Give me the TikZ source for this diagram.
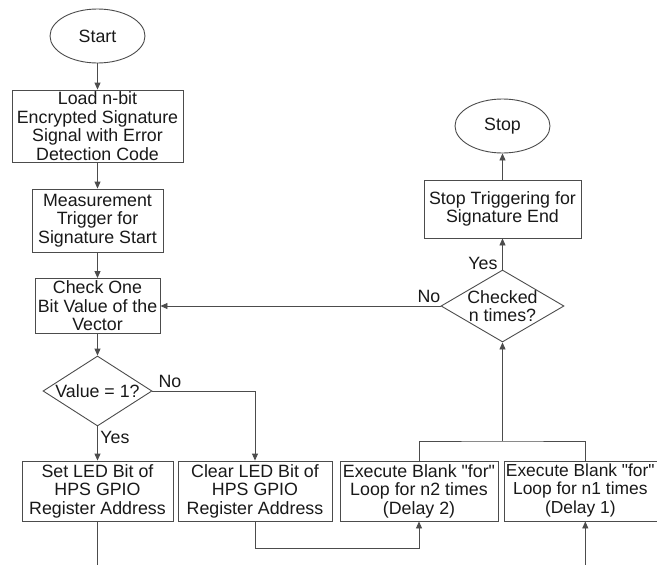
\documentclass[tikz,border=0pt]{standalone}
\usepackage{fontspec}
\setmainfont{Liberation Sans}
\usetikzlibrary{shapes.geometric,arrows.meta}
\begin{document}
\begin{tikzpicture}[x=1pt,y=-1pt,
  every node/.style={font=\fontsize{17.8}{18.5}\selectfont, text=black!90},
  box/.style={draw=black!70, line width=0.9pt, rectangle, align=center, inner sep=1pt},
  term/.style={draw=black!70, line width=0.9pt, ellipse, inner sep=0pt, minimum width=95pt, minimum height=54pt},
  dec/.style={draw=black!70, line width=0.9pt, diamond, align=center, inner sep=-3pt},
  lbl/.style={inner sep=1pt},
  conn/.style={draw=black!70, line width=0.9pt},
  arr/.style={conn, -{Triangle[length=7pt,width=6pt]}}
]
\useasboundingbox (0,0) rectangle (657,565);
\fill[white] (0,0) rectangle (657,565);

\node[term] (start) at (97.5,36) {Start};
\node[box, minimum width=171pt, minimum height=72pt] (load) at (97.5,126) {Load n-bit\\Encrypted Signature\\Signal with Error\\Detection Code};
\node[box, minimum width=131pt, minimum height=63pt] (meas) at (97.5,220.5) {Measurement\\Trigger for\\Signature Start};
\node[box, minimum width=125pt, minimum height=55pt] (check) at (97.5,306) {Check One\\Bit Value of the\\Vector};
\node[dec, minimum width=109pt, minimum height=70pt, aspect=1.557] (val) at (97.5,391) {Value = 1?};
\node[box, minimum width=151pt, minimum height=60pt] (setled) at (97.5,491) {Set LED Bit of\\HPS GPIO\\Register Address};
\node[box, minimum width=154pt, minimum height=60pt] (clear) at (255,491) {Clear LED Bit of\\HPS GPIO\\Register Address};
\node[box, minimum width=158pt, minimum height=60pt] (delay2) at (419,491) {Execute Blank \textquotedbl for\textquotedbl\\Loop for n2 times\\(Delay 2)};
\node[box, inner sep=0pt, minimum height=60pt, font=\fontsize{17.4}{18.5}\selectfont] (delay1) at (585.3,491) {\hspace{1pt}\begin{tabular}{@{}c@{}}Execute Blank \textquotedbl for\textquotedbl\\Loop for n1 times\\(Delay 1)\end{tabular}\hspace{11pt}};
\node[dec, minimum width=123pt, minimum height=72pt, aspect=1.71] (chk) at (502.5,306) {Checked\\n times?};
\node[box, minimum width=157pt, minimum height=58pt] (stoptrig) at (502.5,209) {Stop Triggering for\\Signature End};
\node[term] (stop) at (502.5,126) {Stop};

\coordinate (setbot) at (97.5,565);
\coordinate (c1) at (255,548);
\coordinate (d1bot) at (585.3,565);
\coordinate (jn) at (502.5,441);

\draw[arr] (start.south) -- (load.north);
\draw[arr] (load.south) -- (meas.north);
\draw[arr] (meas.south) -- (check.north);
\draw[arr] (check.south) -- (val.north);
\draw[arr] (val.south) -- (setled.north);
\draw[arr] (val.east) -| (clear.north);
\draw[conn] (setled.south) -- (setbot);
\draw[arr] (clear.south) -- (c1) -| (delay2.south);
\draw[arr] (d1bot) -- (delay1.south);
\draw[conn] (delay2.north) |- (jn) -| (delay1.north);
\draw[arr] (jn) -- (chk.south);
\draw[arr] (chk.west) -- (check.east);
\draw[arr] (chk.north) -- (stoptrig.south);
\draw[arr] (stoptrig.north) -- (stop.south);

\node[lbl] (no1) at (170,381) {No};
\node[lbl] (yes1) at (115,437) {Yes};
\node[lbl] (no2) at (429,296) {No};
\node[lbl] (yes2) at (483,263) {Yes};
\end{tikzpicture}
\end{document}
